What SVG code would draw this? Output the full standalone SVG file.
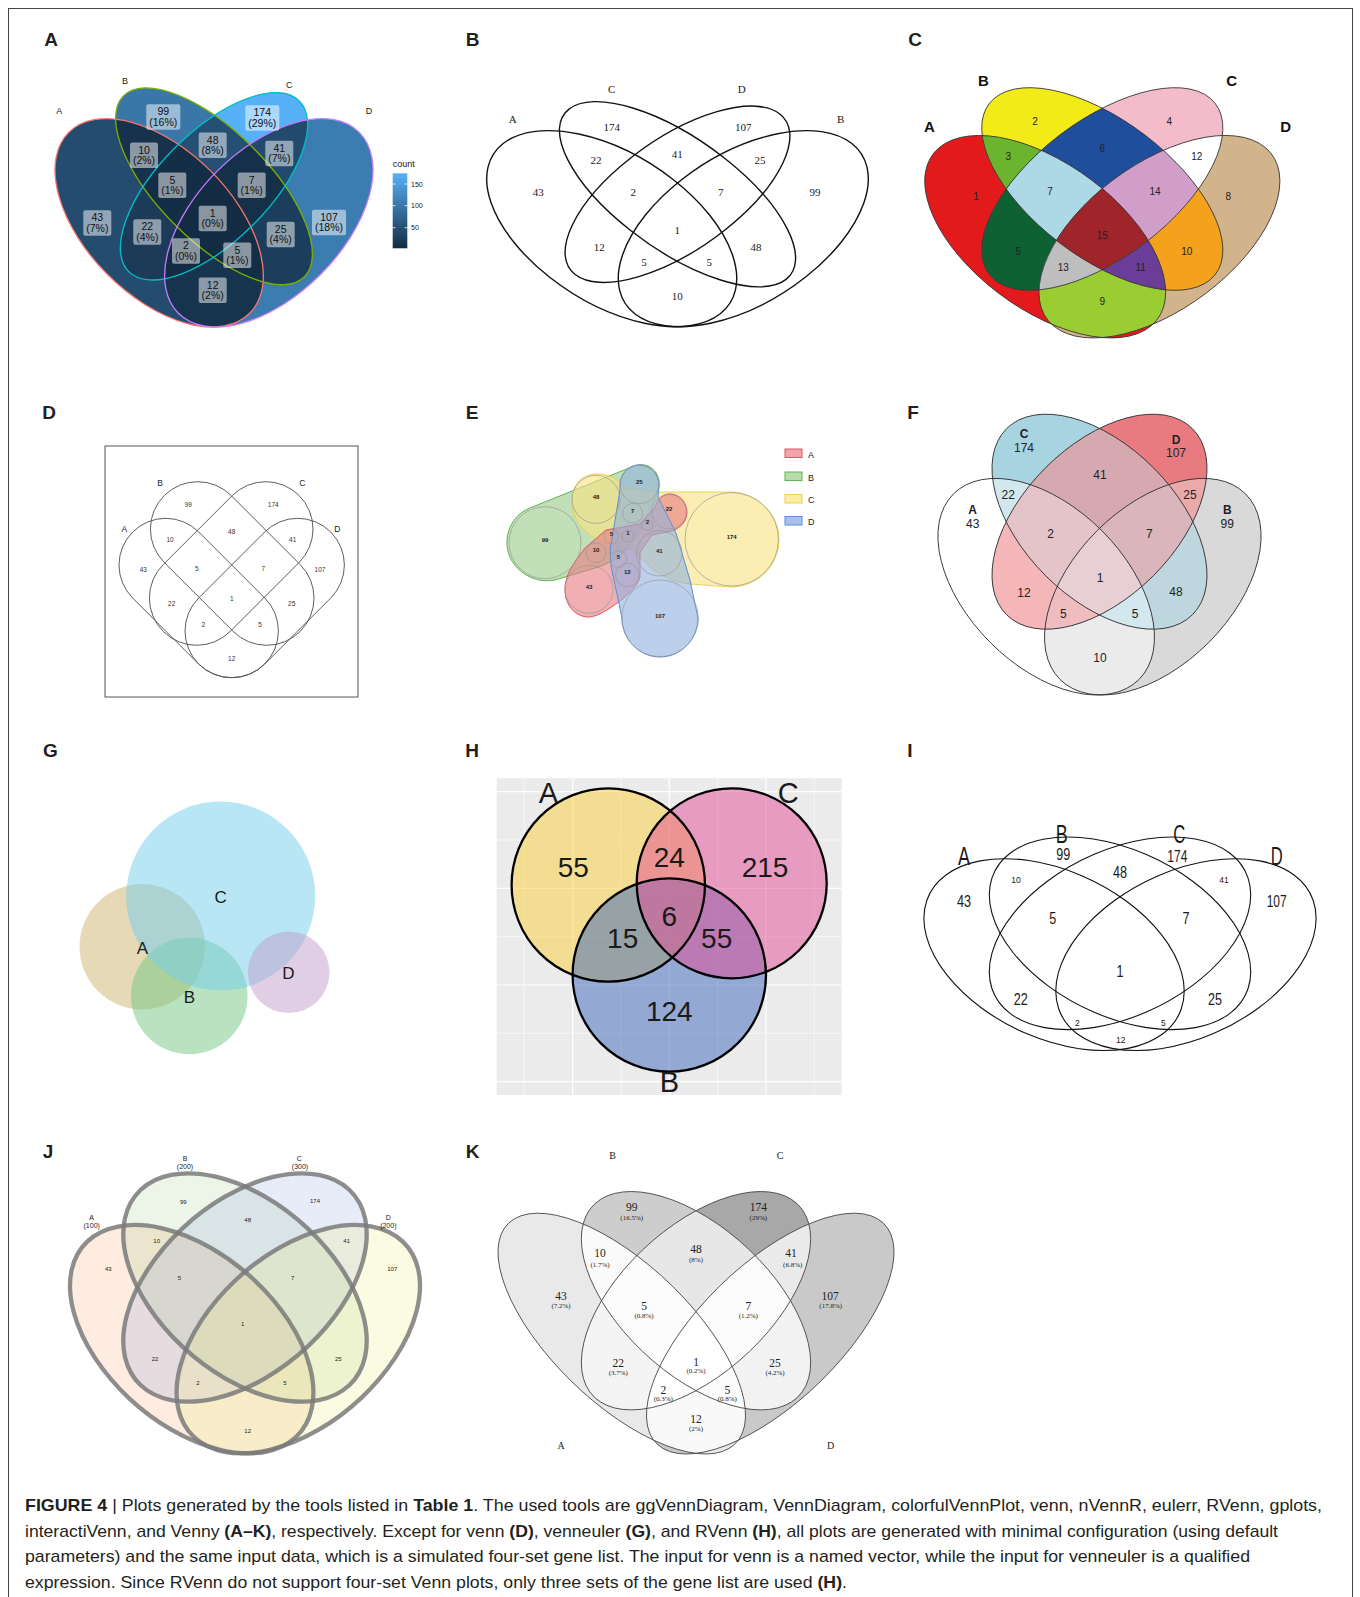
<svg xmlns="http://www.w3.org/2000/svg" width="1360" height="1597" viewBox="0 0 1360 1597">
<style>
text{font-family:"Liberation Sans",Arial,Helvetica,sans-serif;fill:#1a1a1a}
.pl{font-weight:bold;font-size:19px;text-anchor:middle;fill:#231f20}
.m{text-anchor:middle}
.sf{font-family:"Liberation Serif","Times New Roman",serif}
.ns{vector-effect:non-scaling-stroke}
.bx{fill:#ffffff;fill-opacity:.5}
.la{font-size:10.5px;text-anchor:middle;fill:#111}
.vb{font-size:11px;text-anchor:middle;font-family:"Liberation Serif","Times New Roman",serif}
.cn{font-size:10px;text-anchor:middle;fill:#222}
.cl{font-size:15px;font-weight:bold;text-anchor:middle;fill:#111}
.dn{font-size:6.5px;text-anchor:middle;fill:#333}
.en{font-size:6px;font-weight:bold;text-anchor:middle;fill:#222}
.fn{font-size:12px;text-anchor:middle;fill:#222}
.fb{font-size:12px;font-weight:bold;text-anchor:middle;fill:#222}
.jn{font-size:6px;text-anchor:middle;fill:#222}
.kn{font-size:11.5px;text-anchor:middle;font-family:"Liberation Serif","Times New Roman",serif;fill:#222}
.kp{font-size:7px;text-anchor:middle;font-family:"Liberation Serif","Times New Roman",serif;fill:#222}
.cap{font-size:17px;fill:#231f20}
</style>
<defs>
 <ellipse id="aA" class="ns" rx=".35" ry=".2" transform="translate(-.15 .042) rotate(45)"/>
 <ellipse id="aB" class="ns" rx=".35" ry=".15" transform="translate(0 -.058) rotate(45)"/>
 <ellipse id="aC" class="ns" rx=".33" ry=".15" transform="translate(0 -.058) rotate(-45)"/>
 <ellipse id="aD" class="ns" rx=".35" ry=".2" transform="translate(.15 .042) rotate(-45)"/>
 <clipPath id="xaA"><use href="#aA"/></clipPath>
 <clipPath id="xaB"><use href="#aB"/></clipPath>
 <clipPath id="xaC"><use href="#aC"/></clipPath>

 <ellipse id="cA" class="ns" rx="126" ry="68" transform="translate(-48 47.7) rotate(45)"/>
 <ellipse id="cB" class="ns" rx="128.3" ry="63.8" transform="rotate(45)"/>
 <ellipse id="cC" class="ns" rx="128.3" ry="63.8" transform="rotate(-45)"/>
 <ellipse id="cD" class="ns" rx="126" ry="68" transform="translate(48 47.7) rotate(-45)"/>
 <clipPath id="xcA"><use href="#cA"/></clipPath>
 <clipPath id="xcB"><use href="#cB"/></clipPath>
 <clipPath id="xcC"><use href="#cC"/></clipPath>

 <ellipse id="fA" rx="131.2" ry="79" transform="translate(1046.2 586.7) rotate(45)"/>
 <ellipse id="fC" rx="131.5" ry="76.3" transform="translate(1099.5 521.7) rotate(45)"/>
 <ellipse id="fD" rx="131.5" ry="76.3" transform="translate(1099.5 521.7) rotate(-45)"/>
 <ellipse id="fB" rx="131.2" ry="79" transform="translate(1152.8 586.7) rotate(-45)"/>
 <clipPath id="xfA"><use href="#fA"/></clipPath>
 <clipPath id="xfB"><use href="#fB"/></clipPath>
 <clipPath id="xfC"><use href="#fC"/></clipPath>

 <ellipse id="kA" class="ns" rx="463" ry="203" transform="translate(-212.1 92.7) rotate(45.9)"/>
 <ellipse id="kB" class="ns" rx="410" ry="215.7" transform="translate(0 -6) rotate(45)"/>
 <ellipse id="kC" class="ns" rx="410" ry="215.7" transform="translate(0 -6) rotate(-45)"/>
 <ellipse id="kD" class="ns" rx="463" ry="203" transform="translate(212.1 92.7) rotate(-45.9)"/>
 <clipPath id="xkA"><use href="#kA"/></clipPath>
 <clipPath id="xkB"><use href="#kB"/></clipPath>
 <clipPath id="xkC"><use href="#kC"/></clipPath>

 <linearGradient id="gcount" x1="0" y1="0" x2="0" y2="1">
  <stop offset="0" stop-color="#56B1F7"/><stop offset="1" stop-color="#132B43"/>
 </linearGradient>
 <clipPath id="hbg"><rect x="496.7" y="778.3" width="345" height="316.7"/></clipPath>
</defs>

<rect x="8.5" y="8.5" width="1344" height="1600" fill="#fff" stroke="#444" stroke-width="1"/>

<!-- panel letters -->
<g id="letters">
 <text class="pl" x="51" y="46">A</text><text class="pl" x="472.5" y="46">B</text><text class="pl" x="915" y="46">C</text>
 <text class="pl" x="49" y="419">D</text><text class="pl" x="472" y="419">E</text><text class="pl" x="913" y="419">F</text>
 <text class="pl" x="50.5" y="757">G</text><text class="pl" x="472" y="757">H</text><text class="pl" x="910" y="757">I</text>
 <text class="pl" x="48" y="1158">J</text><text class="pl" x="472.5" y="1158">K</text>
</g>

<!-- Panel A ggVennDiagram -->
<g id="panelA">
 <g transform="translate(214 207.5) scale(365.5)">
  <use href="#aA" fill="#234C6F"/><use href="#aB" fill="#3977A9"/><use href="#aC" fill="#56B1F7"/><use href="#aD" fill="#3C7DB1"/>
  <g clip-path="url(#xaA)"><use href="#aB" fill="#16324C"/><use href="#aC" fill="#1B3B59"/><use href="#aD" fill="#17344E"/></g>
  <g clip-path="url(#xaB)"><use href="#aC" fill="#255074"/><use href="#aD" fill="#1C3E5D"/></g>
  <g clip-path="url(#xaC)"><use href="#aD" fill="#224A6D"/></g>
  <g clip-path="url(#xaA)"><g clip-path="url(#xaB)"><use href="#aC" fill="#152E47"/><use href="#aD" fill="#152E47"/></g><g clip-path="url(#xaC)"><use href="#aD" fill="#132C44"/></g></g>
  <g clip-path="url(#xaB)"><g clip-path="url(#xaC)"><use href="#aD" fill="#153049"/></g></g>
  <g clip-path="url(#xaA)"><g clip-path="url(#xaB)"><g clip-path="url(#xaC)"><use href="#aD" fill="#132B43"/></g></g></g>
  <use href="#aA" fill="none" stroke="#F8766D" stroke-width="1.3"/>
  <use href="#aB" fill="none" stroke="#7CAE00" stroke-width="1.3"/>
  <use href="#aC" fill="none" stroke="#00BFC4" stroke-width="1.3"/>
  <use href="#aD" fill="none" stroke="#C77CFF" stroke-width="1.3"/>
 </g>
 <g font-size="9">
  <text class="m" x="59.3" y="114">A</text><text class="m" x="125" y="84">B</text><text class="m" x="289.3" y="88">C</text><text class="m" x="369" y="114">D</text>
 </g>
 <g>
  <rect class="bx" x="146.3" y="104.2" width="34" height="25.5" rx="2"/><text class="la" x="163.3" y="115.2">99</text><text class="la" x="163.3" y="125.7">(16%)</text>
  <rect class="bx" x="245.3" y="105.2" width="34" height="25.5" rx="2"/><text class="la" x="262.3" y="116.2">174</text><text class="la" x="262.3" y="126.7">(29%)</text>
  <rect class="bx" x="130" y="142.5" width="28" height="25.5" rx="2"/><text class="la" x="144" y="153.5">10</text><text class="la" x="144" y="164">(2%)</text>
  <rect class="bx" x="198.7" y="132.5" width="28" height="25.5" rx="2"/><text class="la" x="212.7" y="143.5">48</text><text class="la" x="212.7" y="154">(8%)</text>
  <rect class="bx" x="265.3" y="140.8" width="28" height="25.5" rx="2"/><text class="la" x="279.3" y="151.8">41</text><text class="la" x="279.3" y="162.3">(7%)</text>
  <rect class="bx" x="158.3" y="172.5" width="28" height="25.5" rx="2"/><text class="la" x="172.3" y="183.5">5</text><text class="la" x="172.3" y="194">(1%)</text>
  <rect class="bx" x="237.7" y="172.5" width="28" height="25.5" rx="2"/><text class="la" x="251.7" y="183.5">7</text><text class="la" x="251.7" y="194">(1%)</text>
  <rect class="bx" x="198.7" y="205.8" width="28" height="25.5" rx="2"/><text class="la" x="212.7" y="216.8">1</text><text class="la" x="212.7" y="227.3">(0%)</text>
  <rect class="bx" x="83.3" y="210.2" width="28" height="25.5" rx="2"/><text class="la" x="97.3" y="221.2">43</text><text class="la" x="97.3" y="231.7">(7%)</text>
  <rect class="bx" x="133.3" y="219.2" width="28" height="25.5" rx="2"/><text class="la" x="147.3" y="230.2">22</text><text class="la" x="147.3" y="240.7">(4%)</text>
  <rect class="bx" x="312" y="209.8" width="34" height="25.5" rx="2"/><text class="la" x="329" y="220.8">107</text><text class="la" x="329" y="231.3">(18%)</text>
  <rect class="bx" x="266.7" y="221.8" width="28" height="25.5" rx="2"/><text class="la" x="280.7" y="232.8">25</text><text class="la" x="280.7" y="243.3">(4%)</text>
  <rect class="bx" x="172" y="238.2" width="28" height="25.5" rx="2"/><text class="la" x="186" y="249.2">2</text><text class="la" x="186" y="259.7">(0%)</text>
  <rect class="bx" x="223.3" y="242.5" width="28" height="25.5" rx="2"/><text class="la" x="237.3" y="253.5">5</text><text class="la" x="237.3" y="264">(1%)</text>
  <rect class="bx" x="198.7" y="277.5" width="28" height="25.5" rx="2"/><text class="la" x="212.7" y="288.5">12</text><text class="la" x="212.7" y="299">(2%)</text>
 </g>
 <g id="legendA">
  <text x="392.7" y="167" font-size="9">count</text>
  <rect x="392.7" y="173.3" width="14.6" height="75" fill="url(#gcount)"/>
  <g stroke="#fff" stroke-width=".8">
   <line x1="392.7" y1="184" x2="395.5" y2="184"/><line x1="404.5" y1="184" x2="407.3" y2="184"/>
   <line x1="392.7" y1="205.7" x2="395.5" y2="205.7"/><line x1="404.5" y1="205.7" x2="407.3" y2="205.7"/>
   <line x1="392.7" y1="227.7" x2="395.5" y2="227.7"/><line x1="404.5" y1="227.7" x2="407.3" y2="227.7"/>
  </g>
  <g font-size="7" fill="#444"><text x="411" y="186.5">150</text><text x="411" y="208.2">100</text><text x="411" y="230.2">50</text></g>
 </g>
</g>

<!-- Panel B VennDiagram -->
<g id="panelB">
 <g transform="translate(677.5 214.2) scale(438.6 344)" fill="none" stroke="#111" stroke-width="1.4">
  <use href="#aA"/><use href="#aB"/><use href="#aC"/><use href="#aD"/>
 </g>
 <g>
  <text class="vb" x="512.7" y="123">A</text><text class="vb" x="611.7" y="93">C</text><text class="vb" x="741.7" y="93">D</text><text class="vb" x="840.7" y="123">B</text>
  <text class="vb" x="611.7" y="130.5">174</text><text class="vb" x="743.3" y="130.5">107</text>
  <text class="vb" x="596" y="163.8">22</text><text class="vb" x="677.3" y="157.8">41</text><text class="vb" x="760" y="163.8">25</text>
  <text class="vb" x="538.3" y="195.5">43</text><text class="vb" x="633.3" y="195.5">2</text><text class="vb" x="720.7" y="195.5">7</text><text class="vb" x="815" y="195.5">99</text>
  <text class="vb" x="677.3" y="233.8">1</text>
  <text class="vb" x="599.3" y="251.1">12</text><text class="vb" x="756" y="251.1">48</text>
  <text class="vb" x="644" y="265.5">5</text><text class="vb" x="709.3" y="265.5">5</text>
  <text class="vb" x="677.3" y="299.8">10</text>
 </g>
</g>

<!-- Panel C colorfulVennPlot -->
<g id="panelC">
 <g transform="translate(1102.3 189) scale(1.19 1)">
  <use href="#cA" fill="#E31A1C"/><use href="#cB" fill="#F2EB17"/><use href="#cC" fill="#F4BCCB"/><use href="#cD" fill="#D2B48C"/>
  <g clip-path="url(#xcA)"><use href="#cB" fill="#6AB42E"/><use href="#cC" fill="#0E6133"/><use href="#cD" fill="#9ACD32"/></g>
  <g clip-path="url(#xcB)"><use href="#cC" fill="#1F4E9D"/><use href="#cD" fill="#F4A11C"/></g>
  <g clip-path="url(#xcC)"><use href="#cD" fill="#FFFFFF"/></g>
  <g clip-path="url(#xcA)"><g clip-path="url(#xcB)"><use href="#cC" fill="#ADD8E6"/><use href="#cD" fill="#6A3D98"/></g><g clip-path="url(#xcC)"><use href="#cD" fill="#BEBEBE"/></g></g>
  <g clip-path="url(#xcB)"><g clip-path="url(#xcC)"><use href="#cD" fill="#D09EC8"/></g></g>
  <g clip-path="url(#xcA)"><g clip-path="url(#xcB)"><g clip-path="url(#xcC)"><use href="#cD" fill="#A0252A"/></g></g></g>
  <g fill="none" stroke="#333" stroke-width=".9"><use href="#cA"/><use href="#cB"/><use href="#cC"/><use href="#cD"/></g>
 </g>
 <text class="cl" x="929.3" y="132.2">A</text><text class="cl" x="983.3" y="86.2">B</text><text class="cl" x="1231.7" y="86.2">C</text><text class="cl" x="1285.7" y="132.2">D</text>
 <text class="cn" x="1035" y="125.2">2</text><text class="cn" x="1169.3" y="125.2">4</text><text class="cn" x="1102.3" y="151.8">6</text>
 <text class="cn" x="1008.3" y="160.2">3</text><text class="cn" x="1196.7" y="160.2">12</text>
 <text class="cn" x="976" y="199.5">1</text><text class="cn" x="1050" y="195.2">7</text><text class="cn" x="1155" y="195.2">14</text><text class="cn" x="1228.3" y="199.5">8</text>
 <text class="cn" x="1102.3" y="238.5">15</text><text class="cn" x="1018.3" y="255.2">5</text><text class="cn" x="1186.7" y="255.2">10</text>
 <text class="cn" x="1063.3" y="270.8">13</text><text class="cn" x="1140.7" y="270.8">11</text><text class="cn" x="1102.3" y="305.2">9</text>
</g>

<!-- Panel D venn -->
<g id="panelD">
 <rect x="105" y="446" width="253" height="251" fill="none" stroke="#555" stroke-width="1"/>
 <g fill="none" stroke="#555" stroke-width=".9">
  <rect x="-93.35" y="-46.7" width="186.7" height="93.4" rx="46.7" transform="translate(198.7 598) rotate(45)"/>
  <rect x="-96.1" y="-47.3" width="192.2" height="94.6" rx="47.3" transform="translate(232.2 563.5) rotate(45)"/>
  <rect x="-96.1" y="-47.3" width="192.2" height="94.6" rx="47.3" transform="translate(231.2 563.5) rotate(-45)"/>
  <rect x="-93.35" y="-46.7" width="186.7" height="93.4" rx="46.7" transform="translate(264.7 598) rotate(-45)"/>
 </g>
 <g font-size="8.5" fill="#333">
  <text class="m" x="160" y="486.3">B</text><text class="m" x="302.3" y="486.3">C</text><text class="m" x="124.3" y="532.3">A</text><text class="m" x="337.3" y="532.3">D</text>
 </g>
 <text class="dn" x="188.3" y="507.3">99</text><text class="dn" x="273.3" y="507.3">174</text>
 <text class="dn" x="170" y="541.6">10</text><text class="dn" x="231.7" y="534">48</text><text class="dn" x="292.7" y="541.6">41</text>
 <text class="dn" x="143.3" y="571.6">43</text><text class="dn" x="196.7" y="570.6">5</text><text class="dn" x="263.3" y="570.6">7</text><text class="dn" x="320" y="571.6">107</text>
 <text class="dn" x="171.7" y="605.6">22</text><text class="dn" x="231.7" y="600.6">1</text><text class="dn" x="291.7" y="605.6">25</text>
 <text class="dn" x="203.3" y="627.3">2</text><text class="dn" x="260" y="627.3">5</text>
 <text class="dn" x="231.7" y="660.6">12</text>
</g>

<!-- Panel E nVennR -->
<g id="panelE">
 <path d="M530,508 L634,466 C650,460 665,475 657,495 L640,530 C630,550 615,562 595,568 L555,580 C530,585 505,565 507,540 C508,525 517,513 530,508 Z" fill="#99cc88" fill-opacity=".6" stroke="#5cb553" stroke-width="1"/>
 <path d="M572,500 C572,484 583,474 597,474 C610,474 620,480 625,488 L657,492 L728,492 C755,491 779,513 779,539 C779,566 757,587 731,587 L690,584 C670,582 655,572 645,562 L632,550 L600,540 C585,535 572,520 572,500 Z" fill="#f9e27f" fill-opacity=".6" stroke="#ecd24c" stroke-width="1"/>
 <path d="M565,590 C565,575 572,565 585,548 L606,530 L640,524 L655,507 C658,498 664,494 670,494 C680,494 687,503 687,512 C687,522 680,528 672,531 L652,535 L640,552 L640,577 C637,588 625,598 610,608 C600,615 592,617 589,617 C575,617 565,605 565,590 Z" fill="#e87a80" fill-opacity=".6" stroke="#e05563" stroke-width="1"/>
 <path d="M620,485 C620,474 629,465 639,465 C650,465 659,474 659,485 L658,497 L676,533 L690,580 L698,618 C698,639 681,657 660,657 C639,657 622,639 622,618 L611,566 L610,550 L614,527 L620,490 Z" fill="#8fb0e0" fill-opacity=".6" stroke="#5b8fd6" stroke-width="1"/>
 <g fill="none" stroke="#9a9a9a" stroke-width=".7">
  <circle cx="545" cy="542.7" r="36"/><circle cx="596" cy="499.3" r="24"/><circle cx="639.3" cy="484.3" r="19.3"/>
  <circle cx="632.7" cy="513.3" r="10"/><circle cx="669" cy="511.7" r="17.3"/><circle cx="647.3" cy="525" r="5.5"/>
  <circle cx="611.3" cy="536.7" r="7.3"/><circle cx="628" cy="536" r="6"/><circle cx="596" cy="552.7" r="10"/>
  <circle cx="618.3" cy="559.3" r="8.3"/><circle cx="659.3" cy="553.3" r="22.7"/><circle cx="627.3" cy="575" r="11.7"/>
  <circle cx="589" cy="589.3" r="24"/><circle cx="660" cy="618.3" r="38.3"/><circle cx="731.7" cy="539.3" r="46.7"/>
 </g>
 <text class="en" x="545" y="542">99</text><text class="en" x="596" y="499">48</text><text class="en" x="639.3" y="484">25</text>
 <text class="en" x="632.7" y="512.5">7</text><text class="en" x="669" y="511">22</text><text class="en" x="647.3" y="524">2</text>
 <text class="en" x="611.3" y="535.5">5</text><text class="en" x="628" y="535">1</text><text class="en" x="596" y="552">10</text>
 <text class="en" x="618.3" y="558.5">5</text><text class="en" x="659.3" y="552.5">41</text><text class="en" x="627.3" y="574">12</text>
 <text class="en" x="589" y="589">43</text><text class="en" x="660" y="617.5">107</text><text class="en" x="731.7" y="538.5">174</text>
 <g id="legendE" stroke-width="1">
  <rect x="785" y="449" width="17" height="8.5" fill="#f4a5a8" stroke="#e05563"/>
  <rect x="785" y="472" width="17" height="8.5" fill="#b8dcaa" stroke="#5cb553"/>
  <rect x="785" y="494.5" width="17" height="8.5" fill="#fbeea2" stroke="#ecd24c"/>
  <rect x="785" y="516.5" width="17" height="8.5" fill="#a9c1e7" stroke="#5b8fd6"/>
  <g font-size="9"><text x="808" y="457.5">A</text><text x="808" y="480.5">B</text><text x="808" y="503">C</text><text x="808" y="525">D</text></g>
 </g>
</g>

<!-- Panel F eulerr -->
<g id="panelF">
 <use href="#fA" fill="#ffffff"/><use href="#fB" fill="#d9d9d9"/><use href="#fC" fill="#a8d3e0"/><use href="#fD" fill="#e97b80"/>
 <g clip-path="url(#xfA)"><use href="#fB" fill="#ebebeb"/><use href="#fC" fill="#d1e8ef"/><use href="#fD" fill="#f4b6b9"/></g>
 <g clip-path="url(#xfB)"><use href="#fC" fill="#bed7de"/><use href="#fD" fill="#eaa9aa"/></g>
 <g clip-path="url(#xfC)"><use href="#fD" fill="#d6a9b1"/></g>
 <g clip-path="url(#xfA)"><g clip-path="url(#xfB)"><use href="#fC" fill="#d3e7ee"/><use href="#fD" fill="#efbdc0"/></g><g clip-path="url(#xfC)"><use href="#fD" fill="#e4c4c8"/></g></g>
 <g clip-path="url(#xfB)"><g clip-path="url(#xfC)"><use href="#fD" fill="#dab6bc"/></g></g>
 <g clip-path="url(#xfA)"><g clip-path="url(#xfB)"><g clip-path="url(#xfC)"><use href="#fD" fill="#e8cfd3"/></g></g></g>
 <g fill="none" stroke="#333" stroke-width=".9"><use href="#fA"/><use href="#fB"/><use href="#fC"/><use href="#fD"/></g>
 <text class="fb" x="1024" y="438.2">C</text><text class="fn" x="1024" y="451.5">174</text>
 <text class="fb" x="1176" y="443.5">D</text><text class="fn" x="1176" y="456.9">107</text>
 <text class="fn" x="1100" y="479.2">41</text>
 <text class="fn" x="1008.3" y="498.5">22</text><text class="fn" x="1190" y="498.5">25</text>
 <text class="fb" x="972.7" y="514.2">A</text><text class="fn" x="972.7" y="527.5">43</text>
 <text class="fb" x="1227.3" y="514.2">B</text><text class="fn" x="1227.3" y="527.5">99</text>
 <text class="fn" x="1050.7" y="537.5">2</text><text class="fn" x="1149.3" y="537.5">7</text>
 <text class="fn" x="1100" y="581.9">1</text>
 <text class="fn" x="1024" y="596.9">12</text><text class="fn" x="1176" y="595.9">48</text>
 <text class="fn" x="1063.3" y="617.5">5</text><text class="fn" x="1135" y="617.5">5</text>
 <text class="fn" x="1100" y="661.5">10</text>
</g>

<!-- Panel G venneuler -->
<g id="panelG">
 <circle cx="142.3" cy="946.7" r="62.8" fill="#cbb36d" fill-opacity=".5"/>
 <circle cx="189.3" cy="996" r="58.3" fill="#73c781" fill-opacity=".5"/>
 <circle cx="220.7" cy="896" r="94.5" fill="#73cdeb" fill-opacity=".5"/>
 <circle cx="288.7" cy="972.3" r="40.8" fill="#c19fc9" fill-opacity=".5"/>
 <g font-size="17">
  <text class="m" x="220.7" y="902.7">C</text><text class="m" x="142.3" y="954.3">A</text><text class="m" x="189.3" y="1002.7">B</text><text class="m" x="288.3" y="978.7">D</text>
 </g>
</g>

<!-- Panel H RVenn -->
<g id="panelH">
 <rect x="496.7" y="778.3" width="345" height="316.7" fill="#ebebeb"/>
 <g clip-path="url(#hbg)" stroke="#fff">
  <g stroke-width=".6">
   <line x1="524.3" y1="778" x2="524.3" y2="1095"/><line x1="621" y1="778" x2="621" y2="1095"/><line x1="717.7" y1="778" x2="717.7" y2="1095"/><line x1="814.3" y1="778" x2="814.3" y2="1095"/>
   <line x1="496" y1="840" x2="842" y2="840"/><line x1="496" y1="936.7" x2="842" y2="936.7"/><line x1="496" y1="1033.3" x2="842" y2="1033.3"/>
  </g>
  <g stroke-width="1.2">
   <line x1="572.7" y1="778" x2="572.7" y2="1095"/><line x1="669.3" y1="778" x2="669.3" y2="1095"/><line x1="766" y1="778" x2="766" y2="1095"/>
   <line x1="496" y1="791.7" x2="842" y2="791.7"/><line x1="496" y1="888.3" x2="842" y2="888.3"/><line x1="496" y1="985" x2="842" y2="985"/><line x1="496" y1="1081.7" x2="842" y2="1081.7"/>
  </g>
 </g>
 <circle cx="608.3" cy="885" r="96.7" fill="#fbcf39" fill-opacity=".5"/>
 <circle cx="669.3" cy="975" r="96.7" fill="#3b67bb" fill-opacity=".5"/>
 <circle cx="731.7" cy="883.3" r="95" fill="#e54b95" fill-opacity=".5"/>
 <g fill="none" stroke="#000" stroke-width="2.3">
  <circle cx="608.3" cy="885" r="96.7"/><circle cx="669.3" cy="975" r="96.7"/><circle cx="731.7" cy="883.3" r="95"/>
 </g>
 <g font-size="28">
  <text class="m" x="573.3" y="876.7">55</text><text class="m" x="669.3" y="867.3">24</text><text class="m" x="765" y="876.7">215</text>
  <text class="m" x="669.3" y="926">6</text><text class="m" x="622.7" y="948.3">15</text><text class="m" x="716.7" y="948.3">55</text>
  <text class="m" x="669.3" y="1020.7">124</text>
 </g>
 <g font-size="29">
  <text class="m" x="548.3" y="803.3">A</text><text class="m" x="788.3" y="803.3">C</text><text class="m" x="669.3" y="1091.7">B</text>
 </g>
</g>

<!-- Panel I gplots -->
<g id="panelI">
 <g transform="translate(1120 933.3) scale(.4523 .3333)" fill="none" stroke="#111" stroke-width="1.1">
  <ellipse class="ns" rx="338" ry="226.6" transform="translate(-145.8 64) rotate(45)"/>
  <ellipse class="ns" rx="341.8" ry="224" transform="rotate(45)"/>
  <ellipse class="ns" rx="341.8" ry="224" transform="rotate(-45)"/>
  <ellipse class="ns" rx="338" ry="226.6" transform="translate(145.8 64) rotate(-45)"/>
 </g>
 <g font-size="25">
  <text class="m" x="964" y="865" textLength="12" lengthAdjust="spacingAndGlyphs">A</text>
  <text class="m" x="1061.7" y="842.7" textLength="12" lengthAdjust="spacingAndGlyphs">B</text>
  <text class="m" x="1179.3" y="842.7" textLength="12" lengthAdjust="spacingAndGlyphs">C</text>
  <text class="m" x="1276.7" y="865" textLength="12" lengthAdjust="spacingAndGlyphs">D</text>
 </g>
 <g font-size="16">
  <text class="m" x="1063.3" y="860" textLength="14" lengthAdjust="spacingAndGlyphs">99</text>
  <text class="m" x="1177.3" y="861.7" textLength="20" lengthAdjust="spacingAndGlyphs">174</text>
  <text class="m" x="1120" y="878.3" textLength="14" lengthAdjust="spacingAndGlyphs">48</text>
  <text class="m" x="964" y="906.7" textLength="14" lengthAdjust="spacingAndGlyphs">43</text>
  <text class="m" x="1276.7" y="906.7" textLength="20" lengthAdjust="spacingAndGlyphs">107</text>
  <text class="m" x="1052.7" y="924" textLength="7" lengthAdjust="spacingAndGlyphs">5</text>
  <text class="m" x="1186" y="924" textLength="7" lengthAdjust="spacingAndGlyphs">7</text>
  <text class="m" x="1120" y="976.7" textLength="7" lengthAdjust="spacingAndGlyphs">1</text>
  <text class="m" x="1020.7" y="1005" textLength="14" lengthAdjust="spacingAndGlyphs">22</text>
  <text class="m" x="1215" y="1005" textLength="14" lengthAdjust="spacingAndGlyphs">25</text>
 </g>
 <g font-size="8.5">
  <text class="m" x="1016" y="883.3">10</text><text class="m" x="1224" y="883.3">41</text>
  <text class="m" x="1077.3" y="1026">2</text><text class="m" x="1163.3" y="1026">5</text><text class="m" x="1120.7" y="1043.3">12</text>
 </g>
</g>

<!-- Panel J interactiVenn -->
<g id="panelJ">
 <g transform="translate(245 1287.5) scale(.3553 .3333)">
  <ellipse rx="415" ry="250" transform="translate(-150 155) rotate(45)" fill="#f5a25d" fill-opacity=".2"/>
  <ellipse rx="415" ry="250" transform="rotate(45)" fill="#86c06c" fill-opacity=".16"/>
  <ellipse rx="415" ry="250" transform="rotate(-45)" fill="#8da0e0" fill-opacity=".2"/>
  <ellipse rx="415" ry="250" transform="translate(150 155) rotate(-45)" fill="#eeee80" fill-opacity=".24"/>
  <g fill="none" stroke="#7a7a7a" stroke-width="4.3" stroke-opacity=".85">
   <ellipse class="ns" rx="415" ry="250" transform="translate(-150 155) rotate(45)"/>
   <ellipse class="ns" rx="415" ry="250" transform="rotate(45)"/>
   <ellipse class="ns" rx="415" ry="250" transform="rotate(-45)"/>
   <ellipse class="ns" rx="415" ry="250" transform="translate(150 155) rotate(-45)"/>
  </g>
 </g>
 <g font-size="7">
  <text class="m" x="91.7" y="1219.8" fill="#f0a040">A</text><text class="m" x="91.7" y="1228.3" fill="#f0a040">(100)</text>
  <text class="m" x="185" y="1160.5" fill="#70c070">B</text><text class="m" x="185" y="1169" fill="#70c070">(200)</text>
  <text class="m" x="299.3" y="1160.5" fill="#7a8fd6">C</text><text class="m" x="300" y="1169" fill="#7a8fd6">(300)</text>
  <text class="m" x="388.3" y="1219.8" fill="#dcd450">D</text><text class="m" x="388.3" y="1228.3" fill="#dcd450">(200)</text>
 </g>
 <text class="jn" x="183.3" y="1203.8">99</text><text class="jn" x="315" y="1202.8">174</text><text class="jn" x="247.7" y="1222.1">48</text>
 <text class="jn" x="156.7" y="1242.8">10</text><text class="jn" x="346.7" y="1242.8">41</text>
 <text class="jn" x="108.3" y="1271.4">43</text><text class="jn" x="392.3" y="1271.4">107</text>
 <text class="jn" x="179.3" y="1279.8">5</text><text class="jn" x="292.7" y="1279.8">7</text>
 <text class="jn" x="242.7" y="1326.4">1</text>
 <text class="jn" x="155" y="1361.4">22</text><text class="jn" x="338.3" y="1361.4">25</text>
 <text class="jn" x="198" y="1385.4">2</text><text class="jn" x="285" y="1385.4">5</text>
 <text class="jn" x="247.7" y="1432.8">12</text>
</g>

<!-- Panel K Venny -->
<g id="panelK">
 <g transform="translate(696 1302.7) scale(.35 .3333)">
  <use href="#kA" fill="#e9e9e9"/><use href="#kB" fill="#cdcdcd"/><use href="#kC" fill="#a8a8a8"/><use href="#kD" fill="#c9c9c9"/>
  <g clip-path="url(#xkA)"><use href="#kB" fill="#fafafa"/><use href="#kC" fill="#f4f4f4"/><use href="#kD" fill="#f9f9f9"/></g>
  <g clip-path="url(#xkB)"><use href="#kC" fill="#e7e7e7"/><use href="#kD" fill="#f2f2f2"/></g>
  <g clip-path="url(#xkC)"><use href="#kD" fill="#eaeaea"/></g>
  <g clip-path="url(#xkA)"><g clip-path="url(#xkB)"><use href="#kC" fill="#fcfcfc"/><use href="#kD" fill="#fcfcfc"/></g><g clip-path="url(#xkC)"><use href="#kD" fill="#fefefe"/></g></g>
  <g clip-path="url(#xkB)"><g clip-path="url(#xkC)"><use href="#kD" fill="#fbfbfb"/></g></g>
  <g clip-path="url(#xkA)"><g clip-path="url(#xkB)"><g clip-path="url(#xkC)"><use href="#kD" fill="#ffffff"/></g></g></g>
  <g fill="none" stroke="#444" stroke-width=".9"><use href="#kA"/><use href="#kB"/><use href="#kC"/><use href="#kD"/></g>
 </g>
 <g font-size="10">
  <text class="m sf" x="612.7" y="1158.5">B</text><text class="m sf" x="780" y="1158.5">C</text><text class="m sf" x="561" y="1448.5">A</text><text class="m sf" x="830.7" y="1448.5">D</text>
 </g>
 <text class="kn" x="631.7" y="1210.7">99</text><text class="kp" x="631.7" y="1219.8">(16.5%)</text>
 <text class="kn" x="758.3" y="1210.7">174</text><text class="kp" x="758.3" y="1219.8">(29%)</text>
 <text class="kn" x="696" y="1253.3">48</text><text class="kp" x="696" y="1261.5">(8%)</text>
 <text class="kn" x="600" y="1257.3">10</text><text class="kp" x="600" y="1266.5">(1.7%)</text>
 <text class="kn" x="791" y="1257.3">41</text><text class="kp" x="792.7" y="1266.5">(6.8%)</text>
 <text class="kn" x="561" y="1300">43</text><text class="kp" x="561" y="1307.5">(7.2%)</text>
 <text class="kn" x="830" y="1300">107</text><text class="kp" x="830.7" y="1307.5">(17.8%)</text>
 <text class="kn" x="644" y="1309.7">5</text><text class="kp" x="644" y="1318.2">(0.8%)</text>
 <text class="kn" x="748.3" y="1309.7">7</text><text class="kp" x="748.3" y="1318.2">(1.2%)</text>
 <text class="kn" x="696" y="1365.7">1</text><text class="kp" x="696" y="1373.2">(0.2%)</text>
 <text class="kn" x="618.3" y="1366.7">22</text><text class="kp" x="618.3" y="1374.8">(3.7%)</text>
 <text class="kn" x="775" y="1366.7">25</text><text class="kp" x="775" y="1374.8">(4.2%)</text>
 <text class="kn" x="663.3" y="1394">2</text><text class="kp" x="663.3" y="1400.8">(0.3%)</text>
 <text class="kn" x="727.3" y="1394">5</text><text class="kp" x="727.3" y="1400.8">(0.8%)</text>
 <text class="kn" x="696" y="1422.7">12</text><text class="kp" x="696" y="1430.8">(2%)</text>
</g>

<!-- Caption -->
<g id="caption">
 <text class="cap" x="25" y="1511" textLength="1297" lengthAdjust="spacingAndGlyphs"><tspan font-weight="bold">FIGURE 4</tspan> | Plots generated by the tools listed in <tspan font-weight="bold">Table 1</tspan>. The used tools are ggVennDiagram, VennDiagram, colorfulVennPlot, venn, nVennR, eulerr, RVenn, gplots,</text>
 <text class="cap" x="25" y="1536.5" textLength="1253" lengthAdjust="spacingAndGlyphs">interactiVenn, and Venny <tspan font-weight="bold">(A–K)</tspan>, respectively. Except for venn <tspan font-weight="bold">(D)</tspan>, venneuler <tspan font-weight="bold">(G)</tspan>, and RVenn <tspan font-weight="bold">(H)</tspan>, all plots are generated with minimal configuration (using default</text>
 <text class="cap" x="25" y="1562" textLength="1225" lengthAdjust="spacingAndGlyphs">parameters) and the same input data, which is a simulated four-set gene list. The input for venn is a named vector, while the input for venneuler is a qualified</text>
 <text class="cap" x="25" y="1587.5" textLength="822" lengthAdjust="spacingAndGlyphs">expression. Since RVenn do not support four-set Venn plots, only three sets of the gene list are used <tspan font-weight="bold">(H)</tspan>.</text>
</g>
</svg>
